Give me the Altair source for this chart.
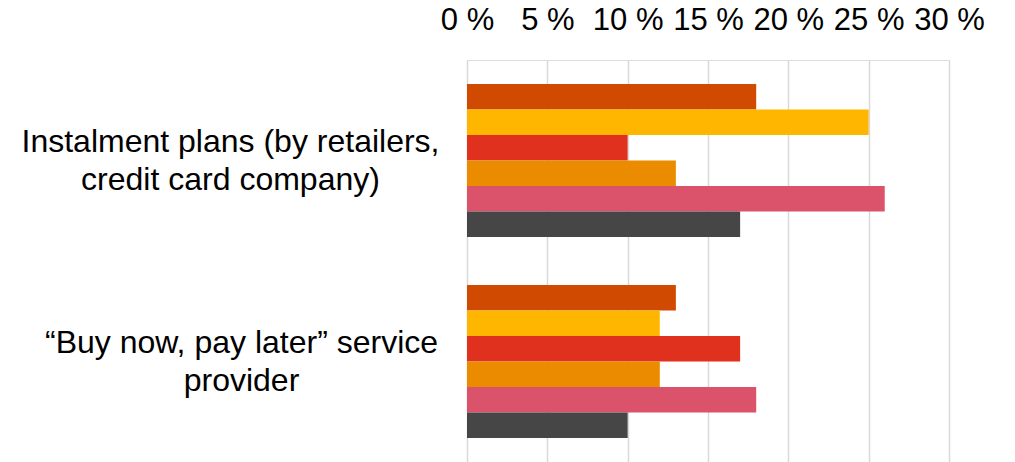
import altair as alt
import pandas as pd

categories = ["Instalment plans (by retailers,|credit card company)",
              "“Buy now, pay later” service|provider"]
series = ["Series 1", "Series 2", "Series 3", "Series 4", "Series 5", "Series 6"]
colors = ["#D04A02", "#FFB600", "#E0301E", "#EB8C00", "#DB536A", "#464646"]
instalment = [18, 25, 10, 13, 26, 17]
bnpl = [13, 12, 17, 12, 18, 10]
tick_values = [0, 5, 10, 15, 20, 25, 30]

rows = []
for cat, vals in zip(categories, [instalment, bnpl]):
    for s, v in zip(series, vals):
        rows.append({"category": cat, "series": s, "value": v})
df = pd.DataFrame(rows)

chart = alt.Chart(df).mark_bar().encode(
    y=alt.Y("category:N", sort=categories,
            scale=alt.Scale(paddingInner=0.24, paddingOuter=0.12),
            axis=alt.Axis(title=None, domain=False, ticks=False,
                          labelExpr="split(datum.label, '|')",
                          labelAlign="center", labelBaseline="middle",
                          labelFontSize=32, labelLineHeight=38,
                          labelOffset=-19,
                          labelFont="Liberation Sans", labelColor="#000000",
                          labelPadding={"condition": {"test": "indexof(datum.label, 'Instalment') >= 0", "value": 237},
                                        "value": 226},
                          labelLimit=1000)),
    yOffset=alt.YOffset("series:N", sort=series,
                        scale=alt.Scale(paddingInner=0, paddingOuter=0)),
    x=alt.X("value:Q", scale=alt.Scale(domain=[0, 30], nice=False),
            axis=alt.Axis(title=None, orient="top", values=tick_values,
                          labelExpr="datum.value + ' %'",
                          domain=False, ticks=False, grid=True,
                          gridColor="#D9D9D9", gridWidth=1.5,
                          labelFontSize=31, labelFont="Liberation Sans",
                          labelColor="#000000", labelPadding=24,
                          labelFlush=False, labelOverlap=False)),
    color=alt.Color("series:N", sort=series,
                    scale=alt.Scale(domain=series, range=colors),
                    legend=None),
).properties(
    width=482, height=402,
    autosize=alt.AutoSizeParams(type="none"),
    padding={"left": 467, "top": 60, "right": 66, "bottom": 0},
).configure_view(stroke=None).configure(background="white")

chart.save("out.html", embed_options={"renderer": "svg", "actions": False})
